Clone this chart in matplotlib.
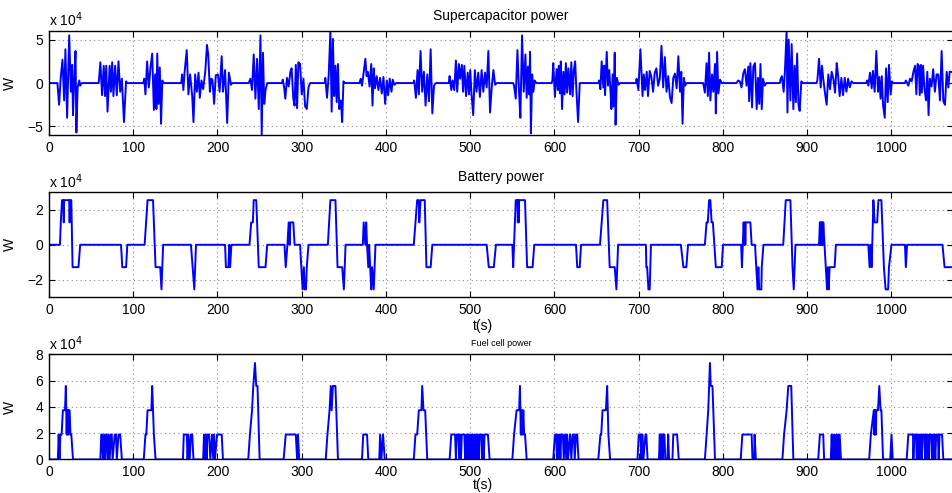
import matplotlib
matplotlib.use("Agg")
import matplotlib.pyplot as plt

# All powers in units of 1e4 W (axes show "x 10^4")

# supercapacitor power, one line per burst
sc_t = [0,
    10, 12, 14, 16, 18, 19.5, 21.5, 24, 26, 27.5, 28.5, 30, 31.5, 32.5, 34, 36, 37, 39,
    59, 61, 63, 65, 66.5, 68, 69.5, 72, 73.5, 75, 76.5, 78.5, 80.5, 82.5, 84.5, 86.5, 89, 91.5, 93,
    112, 113, 114.5, 116.5, 118.5, 120.5, 122.5, 124.5, 126, 127.5, 128.5, 130, 131.5, 133, 134.5, 136,
    157, 158, 159.5, 161, 163.5, 165.5, 167.5, 170, 171.5, 173.5, 175.5, 177.5, 179, 181, 183, 185.5,
    187.5, 189, 191, 192.5, 194, 196, 198, 200.5, 202.5, 205, 206.5, 209, 211.5, 213.5, 216, 217.5,
    237, 239, 241, 243, 245, 247, 249, 251, 252.5, 254, 255.5, 257, 259,
    276.5, 277.5, 279, 280.5, 282.5, 284.5, 286.5, 288, 290, 291.5, 293, 294.5, 296, 298, 300, 302, 304, 306, 308, 310,
    327.5, 328, 330, 332, 334, 335.5, 337, 338.5, 340, 341.5, 343, 344.5, 346.5, 348, 349.5, 351,
    368.5, 370, 371.5, 373.5, 375.5, 377, 378.5, 380.5, 382.5, 384, 385.5, 387, 389, 391, 393, 395, 397, 399,
    401, 402.5, 404.5, 406.5, 408, 410, 412,
    432.5, 433.5, 435.5, 437.5, 439, 441, 443, 445, 447, 449, 451, 453, 455, 457, 459,
    474.5, 475.5, 477.5, 479, 481, 483, 484.5, 486.5, 488, 490, 491.5, 493, 495, 497, 498.5, 500,
    501.5, 503.5, 505.5, 507.5, 509.5, 511.5, 513.5, 515.5, 517.5, 519.5, 521.5, 523.5, 525.5, 527.5, 529.5, 531.5,
    551, 552, 554, 556, 558, 559.5, 561.5, 563.5, 565.5, 567, 568.5, 570, 571, 572, 573.5, 575, 576.5, 578.5,
    596.5, 597.5, 598.5, 600.5, 602.5, 604, 605, 606.5, 607.5, 609, 610.5, 612, 613.5, 615, 616.5, 618.5,
    620, 621.5, 623, 624.5, 626, 628, 630,
    652, 653, 654.5, 656, 658, 659, 660, 662, 663.5, 665, 666.5, 667.5, 669, 670, 671.5, 672.5, 674, 676, 677.5,
    696.5, 697.5, 699.5, 702, 704.5, 706, 707.5, 709.5, 711, 713, 715, 717, 719, 721, 723, 725, 727,
    729, 731, 733, 735, 737, 739, 741, 743, 745, 747, 749, 750.5, 752, 753.5, 755, 756.5,
    776.5, 778.5, 780.5, 782, 783.5, 785, 787, 788.5, 790.5, 791.5, 793, 794.5, 796.5, 798.5,
    816, 818, 820, 822, 824, 826, 828, 830, 831, 832.5, 834.5, 836, 838, 840, 841.5, 843, 844.5, 846, 847.5, 849.5, 851.5,
    867.5, 868.5, 870, 872, 873.5, 875.5, 876.5, 878, 880, 881.5, 883.5, 885, 886.5, 888, 889.5, 891, 893, 894.5,
    911, 912, 914, 916, 917.5, 919, 921, 923, 925, 927, 929, 931, 933, 935, 936.5, 938.5, 940.5, 942.5,
    944.5, 946.5, 948.5, 950.5, 952.5, 954.5,
    970, 971, 972.5, 974.5, 976.5, 978, 980, 982, 984, 985.5, 987, 988.5, 990, 992, 993.5, 995.5, 997, 999, 1000.5, 1002,
    1016, 1017, 1020, 1022, 1024, 1026, 1028, 1029.5, 1031, 1032.5, 1033.5, 1035, 1036, 1037.5, 1039, 1041, 1042.5,
    1044, 1045.5, 1047.5, 1049.5, 1051.5, 1053.5, 1055.5, 1057.5, 1059.5, 1061.5, 1063.5, 1065.5, 1067.5, 1069, 1071, 1073]
sc_p = [0,
    0, -2.5, 0.7, 2.7, -2.0, 3.9, -4.0, 5.5, -1.0, 2.1, -3.7, 0.4, 3.7, -5.7, -0.5, 0.3, -0.3, 0,
    0, 2.4, -1.4, 2.0, -1.5, 2.0, -3.3, 2.0, -1.0, 2.4, -1.5, 2.0, -1.4, 2.5, -1.0, 0.5, -4.5, 0.2, 0,
    0, 0.5, -1.3, 2.5, -0.5, 1.8, 3.4, -3.1, 1.0, -3.0, 3.4, -2.4, 1.8, -4.7, 0.3, 0,
    0, 1.0, -0.8, 1.3, 3.8, -1.3, 1.0, -1.5, -4.5, 1.0, -1.0, 1.2, -1.7, 0.3, -0.7, 1.3,
    4.4, 3.3, -1.0, 0.5, 0.4, -2.4, 0.9, 1.0, -1.0, 3.1, -1.0, 1.5, -4.6, 1.2, -0.2, 0,
    0, 0.5, -0.8, 3.3, -1.8, 2.8, -3.0, 5.5, -6.0, 3.5, -2.4, -0.8, 0,
    0, 0.4, -0.4, -1.8, 0.6, -0.4, 1.3, 1.7, -1.8, -2.6, 2.1, -2.9, 2.4, 2.2, -1.3, 0.5, -2.7, -3.0, -0.5, 0,
    0, 0.6, -1.7, 0.9, 6.0, -3.3, 5.1, -1.5, 2.0, -2.2, 2.2, -3.0, -2.0, -4.5, 0.2, 0,
    0, 0.5, -0.3, 1.2, 2.8, 0.8, 1.3, -0.4, 2.2, -2.6, 1.7, -0.6, 0.8, -0.8, 0.6, -1.2, 0.7, -2.4,
    0.3, -1.4, 0.5, -1.0, 0.4, -0.2, 0,
    0, 0.3, -1.7, 1.5, -1.3, 3.7, -1.0, 1.3, -2.6, 1.0, -2.1, 3.9, -3.5, -0.3, 0,
    0, 0.8, -0.8, 0.3, -0.8, 2.6, -1.0, 2.2, 0.5, 2.1, -1.0, 2.0, -1.5, 1.2, -1.3, 1.5,
    -1.2, -3.7, 1.5, -1.0, 1.2, -1.6, 1.5, -1.0, 1.2, -0.5, 3.7, -3.4, -0.5, 1.5, -0.2, 0,
    0, -0.3, -1.8, 3.8, -1.2, -4.0, 5.5, -1.0, 3.3, -1.7, 1.9, -1.3, 3.6, -5.8, 1.0, -1.0, 0.3, 0,
    0, 0.3, 2.3, -1.6, 1.6, -0.8, 2.0, -1.2, 2.5, -3.0, 1.3, -1.3, 2.3, -1.1, 1.7, -1.3,
    2.4, -1.5, 1.5, 2.5, -0.8, -4.5, 0,
    0, 0.3, -0.7, 2.5, -0.5, 2.0, -1.4, 3.6, -0.3, 1.5, -1.0, -3.0, 1.0, -2.7, 3.5, -4.8, 0.6, -0.2, 0,
    0, 0.5, -0.8, 3.9, -1.5, 1.0, -0.8, 1.3, -1.5, 1.4, 0.7, -1.0, 1.2, 1.7, -0.3, 0.5, 4.3,
    -0.5, 3.0, -1.0, 0.8, -1.6, -2.3, 0.6, 1.1, -0.6, 3.1, -1.0, 1.3, -4.7, 0.6, -0.3, 0,
    0, -1.1, 2.3, -1.5, 3.5, -2.0, 1.0, -1.0, 2.2, -3.5, 3.6, -1.2, 0.4, 0,
    0, 0.3, 0.2, -0.5, 1.1, 1.6, -0.3, 1.9, -2.1, 2.3, -2.8, 1.9, 2.3, -3.0, 0.6, -2.4, 2.2, -3.0, 0.5, -0.3, 0,
    0, 0.5, 0.8, -1.0, 1.4, 6.0, -3.4, 5.0, -2.0, 4.5, -3.0, 2.0, -2.2, 3.4, -2.4, -3.2, 0.2, 0,
    0, 0.3, 2.8, -0.5, 2.0, 0.5, -1.1, -2.5, 1.0, -0.7, 1.3, 0.5, -1.1, 2.3, 1.0, -1.5, 0.6, -1.4,
    0.6, -1.0, 0.5, -0.5, 0.2, 0,
    0, 0.3, -0.3, 1.2, -0.6, 1.4, -1.0, 3.7, -1.0, 0.7, -1.8, 0.8, -2.6, -4.0, 1.7, -2.2, 2.1, -1.3, 0.2, 0,
    0, 0.3, -0.3, 0.5, 0.2, 1.3, 2.0, -1.3, 2.2, 2.0, -1.4, 2.1, -1.1, 2.0, -0.5, -2.0, 1.3,
    -3.7, 0.5, -0.4, 1.6, -1.0, 1.0, 1.0, -2.0, 3.7, -2.1, -2.5, 1.3, -0.5, 1.3, 1.3, 1.2]

# battery power
bat_t = [0, 13, 14, 15.5, 17, 17.5, 18, 24, 24.5, 25, 26.5, 28, 35, 37,
    85.5, 87, 91.5, 93,
    113.5, 117, 123.5, 126.5, 132, 133.5, 135.5,
    168.5, 170.5, 172.5, 174.5,
    209, 210, 213, 214, 215, 216.5,
    238, 240, 242, 243, 246, 247, 249, 257, 259,
    279.5, 281, 283, 284.5, 285.5, 286.5, 290, 291.5, 298, 299.5, 301, 302.5, 303.5, 305, 306, 308,
    331, 334, 340, 342.5, 348, 350, 352,
    372.5, 373.5, 375.5, 376.5, 377.5, 379, 380, 382.5, 383.5, 385.5, 387.5,
    433, 435, 437, 439, 439.5, 441, 446, 448, 453, 455,
    519.5, 522, 528, 530.5,
    550, 551, 552, 554, 556, 556.5, 557, 557.5, 558, 565, 567.5, 574, 576,
    625.5, 627, 630, 631.5,
    654, 658, 662.5, 665.5, 671.5, 673.5, 674.5, 675.5,
    708.5, 709, 710, 711.5, 713, 714.5,
    750, 753, 756.5, 758.5,
    778.5, 780.5, 782, 783.5, 785, 786.5, 788, 791.5, 798.5, 800,
    821.5, 822.5, 823.5, 824.5, 825.5, 826, 826.5, 827, 827.5, 832.5, 834, 838, 839.5, 841, 842, 843, 845.5, 846, 848,
    871.5, 874.5, 880, 882.5, 884, 886,
    914, 915, 915.5, 916, 916.5, 917, 917.5, 918, 918.5, 919, 920.5, 922, 923.5, 924.5, 925.5, 926.5, 932.5, 934,
    972.5, 974, 975, 976.5, 978.5, 980, 983, 984.5, 988, 991, 993, 996, 997, 1000,
    1016, 1017, 1018.5,
    1060.5, 1063, 1073]
bat_p = [0, 0, 1.28, 2.55, 2.55, 1.28, 2.55, 2.55, 1.28, 2.55, 2.55, -1.28, -1.28, 0,
    0, -1.28, -1.28, 0,
    0, 2.55, 2.55, -1.28, -1.28, -2.55, 0,
    0, -1.28, -2.55, 0,
    0, -1.28, -1.28, 0, -1.28, 0,
    0, 1.28, 1.28, 2.55, 2.55, 1.28, -1.28, -1.28, 0,
    0, -1.28, 0, 1.28, 0, 1.28, 1.28, 0, 0, -1.28, -2.55, -1.28, -2.55, -2.55, -1.28, 0,
    0, 2.55, 2.55, -1.28, -1.28, -2.55, 0,
    0, 1.28, 0, 1.28, 0, -1.28, 0, -2.55, -1.28, -2.55, 0,
    0, 1.28, 2.55, 2.55, 1.28, 2.55, 2.55, -1.28, -1.28, 0,
    0, -1.28, -1.28, 0,
    0, -1.28, 0, 2.55, 2.55, 1.28, 2.55, 1.28, 2.55, 2.55, -1.28, -1.28, 0,
    0, -1.28, -1.28, 0,
    0, 2.55, 2.55, -1.28, -1.28, -2.55, -1.28, 0,
    0, -1.28, -1.28, -2.55, -2.55, 0,
    0, -1.28, -1.28, 0,
    0, 1.28, 1.28, 2.55, 2.55, 1.28, 1.28, -1.28, -1.28, 0,
    0, -1.28, 0, 1.28, 0, 1.28, 0, 1.28, 1.28, 1.28, 0, 0, -1.28, -2.55, -1.28, -2.55, -2.55, -1.28, 0,
    0, 2.55, 2.55, -1.28, -2.55, 0,
    0, 1.28, 0, 1.28, 0, 1.28, 0, 1.28, 0, 1.28, 0, -1.28, -2.55, -1.28, -2.55, -1.28, -1.28, 0,
    0, -1.28, 0, -1.28, 2.55, 1.28, 1.28, 2.55, 2.55, -1.28, -2.55, -2.55, -1.28, 0,
    0, -1.28, 0,
    0, -1.28, -1.28]

# fuel cell power
fc_t = [0, 10.5, 11.5, 12.5, 13.5, 15, 16.5, 19, 20, 20.5, 21, 21.5, 22, 22.5, 23, 23.5, 24.5, 25.5, 26.5, 28.5,
    61, 62, 63, 64, 65.5, 66.5, 67.5, 68.5, 69.5, 71, 72, 73.5, 74.5, 75.5, 78, 79.5, 80.5, 82.5, 84.5, 86.5,
    112.5, 114.5, 115.5, 117, 121.5, 122.5, 124.5, 126.5,
    159, 160, 163.5, 164.5, 165.5, 167, 168.5, 170, 171.5,
    183, 184, 185, 186, 187, 188, 190, 191.5, 193.5, 195, 196, 197, 199.5, 205, 206.5,
    236.5, 238.5, 241, 242.5, 244.5, 246, 247.5, 250,
    278.5, 281, 293, 294.5, 295.5, 297,
    328.5, 330.5, 333, 334.5, 335.5, 337, 340, 341, 343,
    371.5, 373, 377.5, 379,
    392, 393, 394.5, 396.5, 398.5,
    433, 435, 437, 439, 442, 443, 444.5, 446.5, 449,
    475.5, 477.5, 482, 483, 484, 486, 487, 488, 489, 490, 493, 494, 495, 496, 497, 498, 499, 500,
    501, 502, 503, 504, 505, 506, 507, 508, 509, 510, 511, 513, 514, 515, 516, 517, 521, 523,
    550, 552, 555, 558, 559, 559.5, 560, 560.5, 561, 561.5, 562, 563, 564, 565, 567,
    598.5, 600.5, 602, 603, 604, 605, 606, 607, 608, 610, 611, 612.5, 614, 615, 616, 618.5, 620, 621.5, 623,
    624, 625.5, 627, 628.5,
    652, 654.5, 655.5, 657, 661, 662.5, 664, 666,
    698.5, 700, 702, 703, 703.5, 704.5, 705.5, 708, 709, 710.5,
    724, 725, 725.5, 726, 726.5, 727, 727.5, 728, 728.5, 729, 730.5, 731.5, 734, 735, 736, 740, 741, 745.5, 747.5,
    778.5, 780.5, 782.5, 784.5, 785.5, 787.5, 790.5,
    821, 823, 834, 835, 837, 837.5, 839,
    870.5, 872.5, 875.5, 877.5, 881, 883.5,
    913, 915, 919, 920, 928, 929, 930, 931.5, 932, 933, 934.5, 935.5, 936.5, 937.5, 938.5, 940,
    973.5, 975.5, 979, 979.5, 980, 980.5, 981, 981.5, 982, 984, 985.5, 987, 988, 990,
    998.5, 1000, 1001.5,
    1018, 1020, 1025.5, 1026, 1027, 1029, 1030, 1031, 1032, 1033, 1034, 1035, 1036, 1037, 1039, 1040, 1041,
    1042, 1043, 1044, 1045, 1047, 1048, 1049, 1050, 1051, 1052, 1053, 1055, 1056, 1057, 1060, 1061.5, 1073]
fc_p = [0, 0, 1.9, 0, 1.9, 1.9, 3.75, 3.75, 5.6, 3.75, 1.9, 3.75, 1.9, 3.75, 1.9, 3.75, 3.75, 1.9, 1.9, 0,
    0, 1.9, 1.9, 0, 1.9, 0, 1.9, 1.9, 0, 1.9, 0, 1.9, 1.9, 0, 1.9, 1.9, 0, 1.9, 1.9, 0,
    0, 1.9, 1.9, 3.75, 3.75, 5.6, 1.9, 0,
    0, 1.9, 1.9, 0, 1.9, 0, 1.9, 1.9, 0,
    0, 1.9, 0, 1.9, 0, 1.9, 1.9, 0, 1.9, 0, 1.9, 0, 1.9, 1.9, 0,
    0, 1.9, 3.75, 5.6, 7.35, 5.6, 5.6, 0,
    0, 1.9, 1.9, 0, 1.9, 0,
    0, 1.9, 3.75, 5.6, 3.75, 5.6, 5.6, 3.75, 0,
    0, 1.9, 1.9, 0,
    0, 1.9, 0, 1.9, 0,
    0, 1.9, 1.9, 3.75, 3.75, 5.6, 3.75, 3.75, 0,
    0, 1.9, 1.9, 0, 1.9, 1.9, 0, 1.9, 0, 1.9, 1.9, 0, 1.9, 0, 1.9, 0, 1.9, 0,
    1.9, 0, 1.9, 0, 1.9, 0, 1.9, 0, 1.9, 0, 1.9, 1.9, 0, 1.9, 0, 1.9, 1.9, 0,
    0, 1.9, 3.75, 3.75, 5.6, 3.75, 1.9, 3.75, 1.9, 3.75, 1.9, 3.75, 1.9, 1.9, 0,
    0, 1.9, 1.9, 0, 1.9, 0, 1.9, 0, 1.9, 1.9, 0, 1.9, 0, 1.9, 0, 1.9, 0, 1.9, 1.9,
    0, 1.9, 1.9, 0,
    0, 1.9, 1.9, 3.75, 3.75, 5.6, 1.9, 0,
    0, 1.9, 1.9, 0, 1.9, 1.9, 0, 1.9, 1.9, 0,
    0, 1.9, 0, 1.9, 0, 1.9, 0, 1.9, 0, 1.9, 1.9, 0, 0, 1.9, 0, 0, 1.9, 1.9, 0,
    0, 1.9, 3.75, 7.35, 5.6, 5.6, 0,
    0, 1.9, 1.9, 0, 0, 1.9, 0,
    0, 1.9, 3.75, 5.6, 5.6, 0,
    0, 1.9, 1.9, 0, 0, 1.9, 0, 0, 1.9, 0, 1.9, 0, 1.9, 0, 1.9, 0,
    0, 1.9, 3.75, 1.9, 3.75, 1.9, 3.75, 1.9, 3.75, 3.75, 5.6, 3.75, 3.75, 0,
    0, 1.9, 0,
    0, 1.9, 1.9, 0, 1.9, 1.9, 0, 1.9, 0, 1.9, 0, 1.9, 0, 1.9, 1.9, 0, 1.9,
    0, 1.9, 0, 1.9, 1.9, 0, 1.9, 0, 1.9, 0, 1.9, 1.9, 0, 1.9, 1.9, 0, 0]

titles = ["Supercapacitor power", "Battery power", "Fuel cell power"]
xticks = list(range(0, 1001, 100))
yticks = [[-5, 0, 5], [-2, 0, 2], [0, 2, 4, 6, 8]]
ylims = [(-6, 6), (-3, 3), (0, 8)]

plt.rcParams['font.family'] = ['Liberation Sans', 'DejaVu Sans']
plt.rcParams['font.size'] = 10

fig = plt.figure(figsize=(9.53, 4.93), dpi=100)
boxes = [[0.0514, 0.726, 0.9486, 0.211],
         [0.0514, 0.397, 0.9486, 0.213],
         [0.0514, 0.068, 0.9486, 0.213]]
xlabel_y = [None, -0.21, -0.175]
series = [(sc_t, sc_p), (bat_t, bat_p), (fc_t, fc_p)]

for i, (box, (t, p)) in enumerate(zip(boxes, series)):
    ax = fig.add_axes(box)
    ax.plot(t, p, color=(0, 0, 1), lw=1.4)
    ax.set_xlim(0, 1073)
    ax.set_ylim(*ylims[i])
    ax.set_xticks(xticks)
    ax.set_yticks(yticks[i])
    ax.set_yticklabels([f"{v}".replace("-", "\u2212") for v in yticks[i]])
    ax.grid(True, linestyle=(0, (1, 3)), color="0.55", lw=0.8)
    ax.tick_params(direction="in", top=True, right=True, length=4, labelsize=10, pad=4)
    for s in ax.spines.values():
        s.set_linewidth(1.0)
    ax.set_ylabel("W")
    ax.yaxis.set_label_coords(-0.036, 0.5)
    ax.text(0, 1.015, "x 10$^{4}$", transform=ax.transAxes, ha="left", va="bottom", fontsize=10)
    if i == 2:
        ax.set_title(titles[i], fontsize=6.5, pad=6)
    else:
        ax.set_title(titles[i], fontsize=10, pad=8)
    if i > 0:
        ax.set_xlabel("t(s)")
        ax.xaxis.set_label_coords(0.48, xlabel_y[i])

fig.savefig("out.png", dpi=100)
